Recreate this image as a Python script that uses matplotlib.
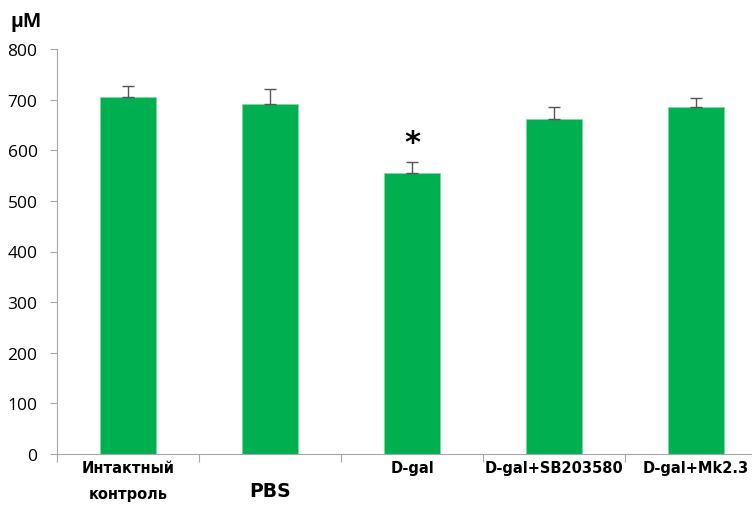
import numpy as np
import matplotlib.pyplot as plt
from matplotlib.transforms import blended_transform_factory

groups = ["Интактный\nконтроль", "PBS", "D-gal", "D-gal+SB203580", "D-gal+Mk2.3"]
values = [705, 691, 556, 661, 685]
errors = [21, 30, 20, 25, 18]
starred = [False, False, True, False, False]

green = "#00b050"

fig = plt.figure(figsize=(7.52, 5.10), dpi=100)
ax = fig.add_axes([57/752, 55/510, 710/752, 405/510])

x = np.arange(len(groups))
ax.bar(x, values, width=0.4, color=green, edgecolor="#7fd8a6", linewidth=0.5, zorder=2)
ax.errorbar(x, values, yerr=[np.zeros(len(errors)), errors], fmt="none",
            ecolor="#555555", elinewidth=1, capsize=4, capthick=1, zorder=3)

for xi, v, e, s in zip(x, values, errors, starred):
    if s:
        ax.text(xi, v + e + 40, "*", ha="center", va="center",
                fontsize=22, fontweight="bold", family="DejaVu Sans")

ax.set_xlim(-0.5, len(groups) - 0.5)
ax.set_ylim(0, 800)
ax.set_yticks(np.arange(0, 801, 100))
ax.tick_params(axis="y", labelsize=12.5, length=5, color="#a6a6a6", pad=9)
for lab in ax.get_yticklabels():
    lab.set_family("Open Sans")

ax.set_xticks(np.arange(-0.5, len(groups), 1.0))
ax.set_xticklabels([])
ax.tick_params(axis="x", length=6, color="#a6a6a6")

for side in ["top", "right"]:
    ax.spines[side].set_visible(False)
for side in ["left", "bottom"]:
    ax.spines[side].set_color("#a6a6a6")

trans = blended_transform_factory(ax.transData, fig.transFigure)
for xi, g in zip(x, groups):
    if g == "PBS":
        ax.text(xi, 1 - 492/510, g, transform=trans, ha="center", va="center",
                fontsize=13.5, fontweight="bold", family="DejaVu Sans")
    else:
        ax.text(xi, 1 - 461/510, g, transform=trans, ha="center", va="top",
                fontsize=10.5, fontweight="bold", family="DejaVu Sans",
                linespacing=1.9)

fig.text(10/752, 1 - 22/510, "μM", ha="left", va="center", fontsize=14,
         fontweight="bold", family="Open Sans")

fig.savefig("out.png", dpi=100)
